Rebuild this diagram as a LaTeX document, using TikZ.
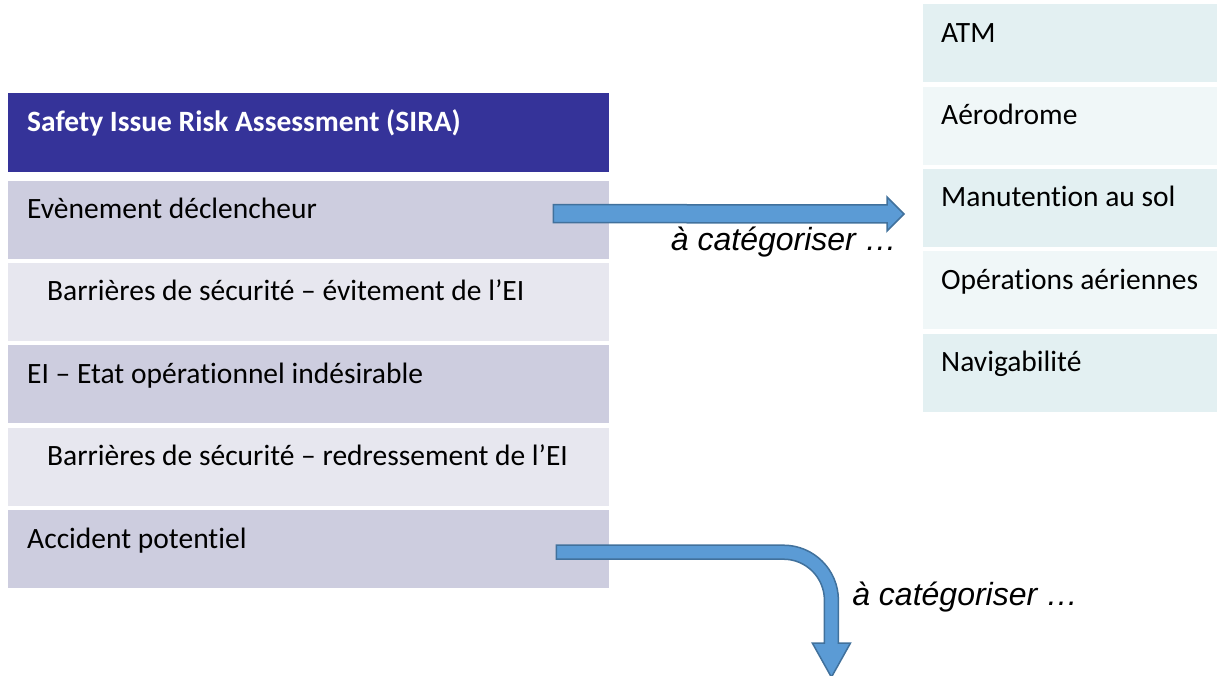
\documentclass[tikz,border=0pt]{standalone}
\usepackage{fontspec}
\setmainfont{Carlito}[RawFeature=-liga]
\newfontfamily\arialfont{Liberation Sans}
\usetikzlibrary{positioning,calc}
\definecolor{siraBlue}{RGB}{53,51,153}
\definecolor{rowDark}{RGB}{205,205,223}
\definecolor{rowLight}{RGB}{231,231,239}
\definecolor{catDark}{RGB}{227,240,242}
\definecolor{catLight}{RGB}{240,247,248}
\definecolor{arrowFill}{RGB}{91,155,213}
\definecolor{arrowLine}{RGB}{65,113,156}
\tikzstyle{sbox}=[rectangle, inner xsep=19pt, inner ysep=0pt, text width=563pt,
                  align=left, text height=38pt, text depth=40pt,
                  execute at begin node={\spaceskip=0pt\xspaceskip=0pt\hyphenpenalty=10000},
                  font=\fontsize{29.5}{34}\selectfont]
\tikzstyle{hbox}=[sbox, fill=siraBlue, text=white, text depth=41pt,
                  font=\fontsize{29.5}{34}\selectfont\bfseries]
\tikzstyle{dbox}=[sbox, fill=rowDark]
\tikzstyle{lbox}=[sbox, fill=rowLight]
\tikzstyle{cbox}=[sbox, inner xsep=18pt, text width=258pt, fill=catDark]
\tikzstyle{clbox}=[cbox, fill=catLight]
\tikzstyle{barrow}=[fill=arrowFill, draw=arrowLine, line width=1.5pt, line join=miter]
\tikzstyle{catlabel}=[inner sep=0pt, font=\arialfont\itshape\fontsize{32}{36}\selectfont]
\begin{document}
\begin{tikzpicture}[x=1pt,y=1pt]
\useasboundingbox (0,0) rectangle (1217,676);

% SIRA column
\node (SIRA) [hbox, anchor=north west] at (8,583) {Safety Issue Risk Assessment (SIRA)};
\node (EVENT) [dbox, below=8pt of SIRA] {Evènement déclencheur};
\node (BAVOID) [lbox, below=4pt of EVENT] {\hspace*{20pt}Barrières de sécurité – évitement de l’EI};
\node (EI) [dbox, below=4pt of BAVOID] {EI – Etat opérationnel indésirable};
\node (BRECOV) [lbox, below=4pt of EI] {\hspace*{20pt}Barrières de sécurité – redressement de l’EI};
\node (ACC) [dbox, below=4pt of BRECOV] {Accident potentiel};

% categories
\node (ATM) [cbox, anchor=north west] at (923,672) {ATM};
\node (AERO) [clbox, below=4pt of ATM] {Aérodrome};
\node (MANU) [cbox, below=4pt of AERO] {Manutention au sol};
\node (OPS) [clbox, below=4pt of MANU] {Opérations aériennes};
\node (NAV) [cbox, below=4pt of OPS] {Navigabilité};

% arrows
\coordinate (evtail) at ([shift={(-56pt,6pt)}]EVENT.east);
\coordinate (evtip) at ([shift={(-19pt,-6pt)}]MANU.west);
\draw[barrow] (evtail) ++(0,9) -- ($(evtip)+(-17,9)$) -- ++(0,8) -- (evtip)
   -- ++(-17,-17) -- ++(0,8) -- ($(evtail)+(0,-9)$) -- cycle;
\node (CATEV) [catlabel, anchor=base east] at ($(evtip)+(-7,-37)$) {à catégoriser …};

\coordinate (acctail) at ([shift={(-53pt,-3pt)}]ACC.east);
\coordinate (acctip) at ($(acctail)+(275,-125)$);
\draw[barrow] (acctail) ++(0,7) -- ++(227,0) arc[start angle=90,end angle=0,radius=55pt]
   -- ($(acctip)+(7,34)$) -- ++(12,0) -- (acctip) -- ++(-19,34) -- ++(12,0) -- ++(0,43)
   arc[start angle=0,end angle=90,radius=41pt] -- ($(acctail)+(0,-7)$) -- cycle;
\node (CATACC) [catlabel, anchor=base east] at ($(acctip)+(247,72)$) {à catégoriser …};

\end{tikzpicture}
\end{document}
